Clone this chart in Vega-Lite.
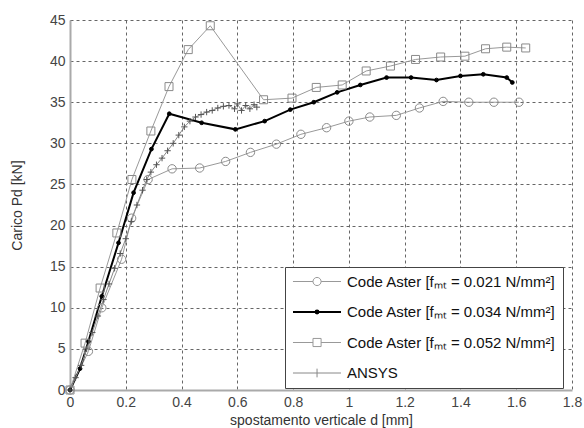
{
  "$schema": "https://vega.github.io/schema/vega-lite/v6.json",
  "width": 502,
  "height": 370,
  "autosize": "none",
  "padding": {"left": 70, "top": 20, "right": 12, "bottom": 38},
  "background": "white",
  "config": {
    "font": "Liberation Sans",
    "view": {"stroke": null},
    "axis": {
      "labelFont": "Liberation Sans",
      "labelFontSize": 14,
      "labelColor": "#444",
      "titleFont": "Liberation Sans",
      "titleFontSize": 14,
      "titleFontWeight": "normal",
      "titleColor": "#333",
      "domainColor": "#aaaaaa",
      "domainWidth": 2,
      "ticks": false,
      "grid": true,
      "gridColor": "#666",
      "gridDash": [3, 3],
      "gridWidth": 1
    }
  },
  "data": {
    "values": [
      {"series": "A", "x": 0, "y": 0},
      {"series": "A", "x": 0.066, "y": 4.7},
      {"series": "A", "x": 0.114, "y": 10.0},
      {"series": "A", "x": 0.185, "y": 15.9},
      {"series": "A", "x": 0.221, "y": 20.9},
      {"series": "A", "x": 0.28, "y": 25.6},
      {"series": "A", "x": 0.366, "y": 26.9},
      {"series": "A", "x": 0.465, "y": 27.0},
      {"series": "A", "x": 0.558, "y": 27.8},
      {"series": "A", "x": 0.647, "y": 28.9},
      {"series": "A", "x": 0.74, "y": 29.9},
      {"series": "A", "x": 0.828, "y": 31.1},
      {"series": "A", "x": 0.92, "y": 31.9},
      {"series": "A", "x": 1.0, "y": 32.7},
      {"series": "A", "x": 1.075, "y": 33.2},
      {"series": "A", "x": 1.17, "y": 33.4},
      {"series": "A", "x": 1.253, "y": 34.3},
      {"series": "A", "x": 1.338, "y": 35.1},
      {"series": "A", "x": 1.43, "y": 35.0},
      {"series": "A", "x": 1.52, "y": 35.0},
      {"series": "A", "x": 1.61, "y": 35.0},
      {"series": "B", "x": 0, "y": 0},
      {"series": "B", "x": 0.036, "y": 2.6},
      {"series": "B", "x": 0.066, "y": 5.9},
      {"series": "B", "x": 0.114, "y": 11.4},
      {"series": "B", "x": 0.174, "y": 17.9},
      {"series": "B", "x": 0.228, "y": 24.0},
      {"series": "B", "x": 0.292, "y": 29.3},
      {"series": "B", "x": 0.356, "y": 33.6},
      {"series": "B", "x": 0.472, "y": 32.5},
      {"series": "B", "x": 0.593, "y": 31.7},
      {"series": "B", "x": 0.698, "y": 32.7},
      {"series": "B", "x": 0.79, "y": 34.1},
      {"series": "B", "x": 0.874, "y": 35.0},
      {"series": "B", "x": 0.958, "y": 36.2},
      {"series": "B", "x": 1.041, "y": 37.1},
      {"series": "B", "x": 1.135, "y": 38.0},
      {"series": "B", "x": 1.223, "y": 38.0},
      {"series": "B", "x": 1.314, "y": 37.7},
      {"series": "B", "x": 1.4, "y": 38.2},
      {"series": "B", "x": 1.482, "y": 38.4},
      {"series": "B", "x": 1.566, "y": 38.0},
      {"series": "B", "x": 1.586, "y": 37.4},
      {"series": "C", "x": 0, "y": 0},
      {"series": "C", "x": 0.054, "y": 5.7},
      {"series": "C", "x": 0.108, "y": 12.4},
      {"series": "C", "x": 0.168, "y": 19.1},
      {"series": "C", "x": 0.222, "y": 25.6},
      {"series": "C", "x": 0.29, "y": 31.5},
      {"series": "C", "x": 0.355, "y": 36.9},
      {"series": "C", "x": 0.424, "y": 41.4},
      {"series": "C", "x": 0.503, "y": 44.3},
      {"series": "C", "x": 0.694, "y": 35.3},
      {"series": "C", "x": 0.796, "y": 35.5},
      {"series": "C", "x": 0.883, "y": 36.8},
      {"series": "C", "x": 0.976, "y": 37.1},
      {"series": "C", "x": 1.062, "y": 38.8},
      {"series": "C", "x": 1.149, "y": 39.4},
      {"series": "C", "x": 1.239, "y": 40.2},
      {"series": "C", "x": 1.329, "y": 40.5},
      {"series": "C", "x": 1.416, "y": 40.6},
      {"series": "C", "x": 1.49, "y": 41.5},
      {"series": "C", "x": 1.566, "y": 41.7},
      {"series": "C", "x": 1.634, "y": 41.6},
      {"series": "D", "x": 0, "y": 0},
      {"series": "D", "x": 0.02, "y": 1.5},
      {"series": "D", "x": 0.04, "y": 3.0},
      {"series": "D", "x": 0.06, "y": 5.0},
      {"series": "D", "x": 0.08, "y": 7.0},
      {"series": "D", "x": 0.1, "y": 9.0},
      {"series": "D", "x": 0.12, "y": 11.0},
      {"series": "D", "x": 0.14, "y": 12.9},
      {"series": "D", "x": 0.16, "y": 14.8},
      {"series": "D", "x": 0.18, "y": 16.6},
      {"series": "D", "x": 0.2, "y": 18.4},
      {"series": "D", "x": 0.22, "y": 20.5},
      {"series": "D", "x": 0.24, "y": 22.5},
      {"series": "D", "x": 0.26, "y": 24.3},
      {"series": "D", "x": 0.275, "y": 25.6},
      {"series": "D", "x": 0.29, "y": 26.5},
      {"series": "D", "x": 0.31, "y": 27.4},
      {"series": "D", "x": 0.33, "y": 28.2},
      {"series": "D", "x": 0.35, "y": 29.1},
      {"series": "D", "x": 0.37, "y": 30.0},
      {"series": "D", "x": 0.39, "y": 31.0},
      {"series": "D", "x": 0.41, "y": 32.0},
      {"series": "D", "x": 0.43, "y": 32.7},
      {"series": "D", "x": 0.45, "y": 33.2},
      {"series": "D", "x": 0.47, "y": 33.5},
      {"series": "D", "x": 0.49, "y": 33.8},
      {"series": "D", "x": 0.51, "y": 34.0},
      {"series": "D", "x": 0.53, "y": 34.3},
      {"series": "D", "x": 0.55, "y": 34.5},
      {"series": "D", "x": 0.57, "y": 34.6},
      {"series": "D", "x": 0.59, "y": 34.2},
      {"series": "D", "x": 0.6, "y": 34.8},
      {"series": "D", "x": 0.615, "y": 34.0},
      {"series": "D", "x": 0.63, "y": 34.6},
      {"series": "D", "x": 0.645, "y": 34.2},
      {"series": "D", "x": 0.66, "y": 34.7},
      {"series": "D", "x": 0.67, "y": 34.4}
    ]
  },
  "encoding": {
    "x": {
      "field": "x",
      "type": "quantitative",
      "scale": {"domain": [0, 1.8], "nice": false, "zero": false},
      "axis": {
        "values": [0, 0.2, 0.4, 0.6, 0.8, 1, 1.2, 1.4, 1.6, 1.8],
        "format": "~g",
        "labelPadding": 5,
        "labelFlush": false,
        "title": "spostamento verticale d [mm]",
        "titlePadding": 4
      }
    },
    "y": {
      "field": "y",
      "type": "quantitative",
      "scale": {"domain": [0, 45], "nice": false},
      "axis": {
        "values": [0, 5, 10, 15, 20, 25, 30, 35, 40, 45],
        "labelPadding": 5,
        "title": "Carico Pd [kN]",
        "titlePadding": 25
      }
    }
  },
  "layer": [
    {
      "mark": {"type": "line"},
      "encoding": {
        "stroke": {
          "field": "series",
          "type": "nominal",
          "scale": {"domain": ["A", "B", "C", "D"], "range": ["#999999", "#000000", "#999999", "#888888"]},
          "legend": {
            "orient": "none",
            "legendX": 215,
            "legendY": 247,
            "title": null,
            "labelFont": "Liberation Sans",
            "labelFontSize": 15,
            "labelColor": "#111",
            "labelLimit": 400,
            "labelExpr": "datum.label == 'A' ? 'Code Aster [fₘₜ = 0.021 N/mm²]' : datum.label == 'B' ? 'Code Aster [fₘₜ = 0.034 N/mm²]' : datum.label == 'C' ? 'Code Aster [fₘₜ = 0.052 N/mm²]' : 'ANSYS'",
            "symbolSize": 841,
            "labelOffset": 40,
            "padding": 7,
            "rowPadding": 14.5,
            "strokeColor": "#444",
            "fillColor": "white",
            "encode": {
              "symbols": {
                "update": {
                  "shape": {"signal": "datum.value == 'A' ? 'M-0.45,0H0.93M1.49,0H2.86M0.93,0A0.28,0.28 0 1,1 1.49,0A0.28,0.28 0 1,1 0.93,0' : datum.value == 'B' ? 'M-0.45,0H2.86M1.11,0A0.1,0.1 0 1,1 1.31,0A0.1,0.1 0 1,1 1.11,0' : datum.value == 'C' ? 'M-0.45,0H0.93M1.49,0H2.86M0.93,-0.28H1.49V0.28H0.93Z' : 'M-0.45,0H2.86M1.21,-0.3V0.3'"},
                  "size": {"value": 841},
                  "strokeWidth": {"signal": "datum.value == 'B' ? 2 : 1"},
                  "fill": {"value": "transparent"}
                }
              }
            }
          }
        },
        "strokeWidth": {
          "field": "series",
          "type": "nominal",
          "scale": {"type": "ordinal", "range": [1, 2, 1, 1]},
          "legend": null
        }
      }
    },
    {
      "mark": {"type": "point", "filled": false, "opacity": 1, "strokeWidth": 1},
      "encoding": {
        "color": {
          "field": "series",
          "type": "nominal",
          "scale": {"range": ["#8a8a8a", "#000000", "#8a8a8a", "#555555"]},
          "legend": null
        },
        "shape": {
          "field": "series",
          "type": "nominal",
          "scale": {"range": ["circle", "circle", "square", "M0,-1V1M-1,0H1"]},
          "legend": null
        },
        "size": {
          "field": "series",
          "type": "nominal",
          "scale": {"type": "ordinal", "range": [70, 14, 64, 40]},
          "legend": null
        },
        "fill": {
          "field": "series",
          "type": "nominal",
          "scale": {"range": ["transparent", "#000000", "transparent", "transparent"]},
          "legend": null
        }
      }
    }
  ]
}
